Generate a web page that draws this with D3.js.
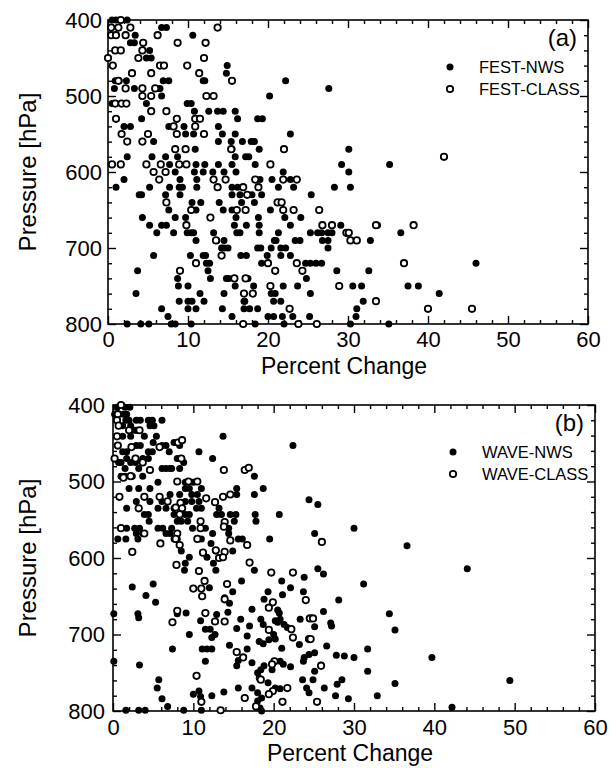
<!DOCTYPE html>
<html><head><meta charset="utf-8">
<script src="https://cdn.jsdelivr.net/npm/d3@7"></script>
<style>body{margin:0;background:#fff}text{font-family:"Liberation Sans",Arial,Helvetica,sans-serif;fill:#000}</style>
</head><body>
<svg id="chart" width="616" height="768"></svg>
<script>
// ---------- axis definitions ----------
const xMajorTicks = [0, 10, 20, 30, 40, 50, 60];
const xMinorTicks = [2,4,6,8,12,14,16,18,22,24,26,28,32,34,36,38,42,44,46,48,52,54,56,58];
const yMajorTicks = [400, 500, 600, 700, 800];
const yMinorTicks = [420,440,460,480,520,540,560,580,620,640,660,680,720,740,760,780];
const xTitle = "Percent Change";
const yTitle = "Pressure [hPa]";

// ---------- panel (a): [percent change, pressure hPa] ----------
const festNWS = [
[0.5,400],[1.0,400],[2.4,400],[6.7,410],[7.3,410],[3.4,420],[10.6,420],[2.8,430],[3.3,430],[5.2,440],
[4.8,450],[5.4,450],[14.9,460],[14.8,470],
[0.9,480],[1.4,480],[2.3,480],[6.9,480],[7.6,480],[11.9,480],[12.1,480],[22.2,480],
[0.8,490],[3.3,490],[6.1,490],[6.5,490],[27.6,490],[6.7,500],[20.2,500],
[0.5,510],[4.8,510],[9.9,510],[10.4,510],
[10.8,520],[12.6,520],[13.7,520],[14.4,520],[15.9,520],
[4.2,530],[16.2,530],[18.7,530],[19.3,530],
[2.0,540],[2.8,540],[7.6,540],[9.5,540],[13.8,540],
[9.7,550],[10.7,550],[14.3,550],[15.9,550],[22.8,550],
[5.7,560],[13.8,560],[15.4,560],[16.8,560],[17.9,560],[18.3,560],
[10.9,570],[15.5,570],[18.9,570],[30.1,570],
[2.4,580],[5.5,580],[7.2,580],[8.7,580],[15.9,580],[17.2,580],[17.6,580],
[7.7,590],[11.0,590],[12.1,590],[13.8,590],[15.5,590],[18.4,590],[29.2,590],[35.2,590],
[8.4,600],[10.8,600],[11.9,600],[13.1,600],[14.5,600],[16.0,600],[21.9,600],[30.1,600],
[2.0,610],[9.0,610],[11.1,610],[19.0,610],[20.5,610],[22.8,610],
[1.0,620],[5.2,620],[7.7,620],[8.9,620],[9.3,620],[11.1,620],[15.5,620],[16.2,620],[21.3,620],[23.2,620],[28.3,620],[30.3,620],
[3.9,630],[4.2,630],[7.2,630],[9.0,630],[15.5,630],[16.5,630],[18.0,630],[19.2,630],[25.4,630],
[10.5,640],[11.6,640],[13.9,640],[16.7,640],[18.3,640],
[7.6,650],[11.0,650],[14.4,650],[15.5,650],[20.3,650],
[4.3,660],[8.4,660],[9.7,660],[16.0,660],[18.8,660],[22.1,660],[24.1,660],
[5.2,670],[6.7,670],[7.3,670],[15.8,670],[17.3,670],[18.9,670],[22.8,670],[29.1,670],[33.7,670],
[6.1,680],[8.2,680],[9.9,680],[10.4,680],[10.7,680],[13.2,680],[16.1,680],[16.5,680],[18.9,680],[21.3,680],[25.3,680],[26.2,680],[26.7,680],[27.5,680],[28.0,680],[36.6,680],
[11.0,690],[13.6,690],[14.5,690],[20.8,690],[21.0,690],[23.4,690],[24.0,690],[26.8,690],[27.5,690],[32.8,690],
[14.2,700],[14.5,700],[15.0,700],[18.7,700],[19.1,700],[20.4,700],[21.6,700],[22.2,700],[27.5,700],
[5.7,710],[10.3,710],[11.9,710],[12.2,710],[16.6,710],[17.3,710],[19.9,710],[21.6,710],[22.8,710],
[12.3,720],[12.7,720],[19.2,720],[24.7,720],[25.3,720],[26.0,720],[26.7,720],[46.0,720],
[3.7,730],[12.5,730],[28.6,730],[32.6,730],
[8.7,740],[12.8,740],[14.8,740],[15.1,740],[17.5,740],[24.8,740],
[8.8,750],[10.0,750],[15.9,750],[18.2,750],[21.9,750],[23.7,750],[30.6,750],[31.7,750],[37.5,750],[38.8,750],
[3.5,760],[11.5,760],[14.5,760],[20.4,760],[20.9,760],[25.3,760],[41.4,760],
[8.9,770],[10.0,770],[10.5,770],[12.0,770],[17.0,770],[17.1,770],[20.7,770],[21.6,770],[31.9,770],
[6.7,780],[10.0,780],[11.0,780],[14.3,780],[17.0,780],[17.7,780],[18.7,780],[31.1,780],
[7.5,790],[15.5,790],[20.0,790],[20.7,790],[21.8,790],[23.1,790],[25.2,790],[31.0,790],
[2.4,800],[4.1,800],[5.1,800],[7.9,800],[8.4,800],[10.4,800],[18.4,800],[22.0,800],[30.3,800],[35.1,800]
];
const festCLASS = [
[1.6,400],[0.4,410],[1.3,410],[2.8,410],[13.7,410],[0.4,420],[1.0,420],[2.2,420],[6.2,420],
[4.4,430],[8.7,430],[12.2,430],[0.9,440],[1.6,440],[4.3,440],[0.0,450],[3.8,450],[12.0,450],
[0.6,460],[6.5,460],[7.0,460],[9.9,460],[3.0,470],[5.4,470],[11.4,470],[1.3,480],[15.5,480],
[2.2,490],[4.3,490],[5.9,490],[4.3,500],[5.4,500],[12.3,500],[13.2,500],[0.9,510],[1.7,510],[2.3,510],
[5.4,520],[7.3,520],[1.0,530],[8.6,530],[10.9,530],[11.5,530],[8.2,540],[10.9,540],
[1.7,550],[5.0,550],[8.6,550],[12.0,550],[2.4,560],[4.3,560],[8.4,570],[9.7,570],[15.4,570],[22.0,570],
[42.0,580],[0.5,590],[1.6,590],[4.8,590],[6.6,590],[8.9,590],[9.8,590],[20.3,590],[5.7,600],[7.2,600],
[6.4,610],[13.2,610],[14.7,610],[18.4,610],[21.9,610],[23.6,610],[13.7,620],[16.9,620],[18.8,620],
[17.4,630],[7.3,640],[21.2,640],[21.7,640],[10.4,650],[16.1,650],[17.2,650],[21.9,650],[23.2,650],[26.4,650],
[12.8,660],[9.8,670],[26.8,670],[28.0,670],[33.5,670],[38.2,670],[29.8,680],[30.1,680],
[13.5,690],[30.3,690],[31.1,690],[14.2,710],[11.0,720],[20.0,720],[23.6,720],[37.0,720],
[9.0,730],[20.9,730],[24.3,730],[15.8,740],[17.2,740],[20.3,750],[28.9,750],[17.0,760],[18.1,760],
[33.5,770],[22.7,780],[40.0,780],[45.5,780],[16.9,800],[23.8,800],[26.1,800]
];

// ---------- panel (b): [percent change, pressure hPa] ----------
const waveNWS = [
[0.5,403],[1.5,403],[2.1,403],[0.2,412],[0.7,412],[1.3,412],[1.7,412],
[1.6,420],[2.0,420],[2.9,420],[3.4,420],[4.4,420],[4.9,420],[6.1,420],
[1.2,427],[2.2,427],[4.6,427],[5.1,427],[2.7,433],[2.9,433],
[1.2,441],[2.2,441],[3.9,441],[5.4,441],[13.7,441],[7.6,449],[5.0,449],
[6.6,453],[6.1,453],[8.3,453],[2.9,453],[3.4,453],[22.4,453],
[1.2,461],[1.7,461],[4.4,461],[4.9,461],[10.7,461],[7.0,461],
[1.7,470],[3.7,470],[4.4,470],[8.0,470],[12.4,470],[0.7,475],[1.0,475],[2.2,475],[2.8,475],[8.8,475],
[6.1,483],[6.6,483],[7.1,483],[7.3,483],[8.3,483],[1.5,483],[3.2,483],
[1.5,493],[1.0,493],[2.4,493],[3.7,493],[17.6,493],[5.6,501],[9.0,501],[10.0,501],
[4.6,509],[2.0,509],[3.2,509],[9.0,509],[9.5,509],[11.0,509],[15.4,509],[18.7,509],
[7.1,517],[8.3,517],[10.5,517],[9.8,517],[17.6,517],[15.4,517],
[2.9,526],[4.6,526],[6.1,526],[9.8,526],[10.7,526],[9.0,526],[24.4,524],[25.5,530],
[1.7,535],[5.6,535],[6.6,535],[7.6,535],[10.4,535],[11.0,535],[13.2,535],
[3.9,543],[4.4,543],[7.6,543],[8.3,543],[9.0,543],[9.5,543],[12.9,543],[13.5,543],[14.6,543],[15.3,543],[17.7,543],[20.7,543],
[4.5,552],[8.0,552],[8.5,552],[9.3,552],[15.1,552],[17.8,552],
[1.7,561],[2.7,561],[3.3,561],[5.6,561],[6.2,561],[7.3,561],[9.9,561],[11.5,561],[14.4,561],[30.0,561],
[2.9,568],[3.7,568],[6.6,568],[7.1,568],[25.1,568],[12.4,568],[14.4,568],
[0.6,575],[1.6,575],[3.1,575],[7.6,575],[8.0,575],[11.0,575],[15.6,575],[16.1,575],[19.5,575],
[12.2,581],[36.6,584],[8.5,591],[12.8,591],[14.9,591],[9.5,599],[11.7,599],[12.5,607],[9.0,607],
[8.9,616],[12.8,616],[17.6,616],[25.5,614],[44.1,614],[26.2,621],
[23.8,625],[21.0,630],[16.0,630],[31.2,634],[5.0,634],[22.1,639],[2.4,638],[12.0,639],
[23.7,644],[14.9,644],[19.3,644],[21.1,648],[4.1,649],[13.9,652],[18.8,654],[28.1,655],[5.3,658],[14.5,659],
[17.3,667],[20.5,668],[26.2,670],[14.3,671],[9.1,672],[20.7,672],[34.4,673],[0.1,673],[8.0,673],[12.9,674],
[3.1,673],[3.2,678],[10.9,682],[15.9,680],[18.4,680],[20.8,680],[23.3,680],[20.2,682],[20.5,684],[27.1,685],
[21.3,687],[18.7,687],[27.2,689],[17.0,689],[25.1,690],[21.7,691],[15.4,692],[11.5,693],[12.1,693],[35.1,694],
[9.5,700],[12.7,700],[20.0,700],[16.7,702],[12.3,704],[20.2,706],[19.4,707],[18.2,709],[18.7,712],[23.2,713],
[14.5,714],[26.6,715],[21.0,718],[7.4,719],[11.1,719],[11.7,719],[12.3,719],[16.7,719],[31.7,719],
[25.1,724],[24.4,726],[27.8,727],[28.8,728],[39.7,730],[30.0,730],[23.8,730],[15.6,734],[11.5,735],[0.1,735],
[20.8,735],[23.7,735],[17.3,737],[21.2,739],[3.3,740],[15.4,741],[18.8,741],[25.9,740],[22.1,742],
[18.4,746],[19.8,746],[25.1,748],[31.7,748],[18.0,750],[18.2,757],[23.6,759],[24.9,759],[28.5,759],[49.4,760],
[5.7,759],[19.3,763],[27.9,765],[35.1,764],[17.3,770],[15.6,770],[5.5,770],[20.2,770],[20.8,771],[26.3,770],
[24.1,770],[10.7,774],[13.8,775],[18.0,776],[24.4,776],[10.0,778],[12.3,780],[27.7,780],[32.9,780],[10.9,781],
[18.5,783],[6.1,784],[29.3,784],[18.0,787],[6.8,794],[42.2,795],[18.3,796],[18.5,800],[8.8,799],[11.0,799],
[1.6,799],[3.2,799],[4.0,799]
];
const waveCLASS = [
[1.0,400],[0.6,412],[0.5,420],[0.7,427],[2.0,433],[3.3,433],[0.5,441],[8.1,449],[8.6,446],
[0.6,453],[2.3,455],[5.8,455],[0.2,470],[2.8,470],[8.5,470],[3.7,475],[4.6,485],[13.8,485],
[16.4,485],[16.9,482],[2.2,493],[1.3,495],[8.0,500],[9.4,500],[10.5,500],[0.8,520],[3.9,520],
[5.8,520],[11.6,522],[13.7,520],[14.6,517],[6.8,526],[8.4,528],[12.7,527],[3.2,535],[7.8,534],
[8.6,535],[8.3,543],[10.9,552],[13.9,553],[1.0,561],[10.9,561],[13.8,559],[3.9,568],[8.0,568],
[10.5,575],[7.8,575],[14.6,577],[5.9,581],[8.3,583],[16.7,583],[26.0,579],[2.4,592],[11.2,593],
[12.8,590],[13.9,592],[13.2,600],[13.7,599],[7.9,609],[17.0,606],[10.7,617],[19.7,619],[22.4,619],
[11.4,630],[14.2,634],[10.0,640],[11.0,640],[11.1,650],[13.9,654],[24.0,655],[19.9,658],[19.4,665],
[8.0,669],[11.5,672],[24.5,679],[24.9,679],[7.4,684],[12.7,683],[13.9,683],[22.2,693],[19.4,694],
[22.4,704],[24.4,706],[24.6,706],[15.4,723],[16.2,730],[20.1,735],[19.8,739],[25.9,741],[10.4,754],
[18.4,759],[21.7,770],[19.9,774],[19.4,778],[16.4,783],[11.0,788],[21.1,788],[25.4,788],[17.8,794],[13.4,799]
];

// ---------- drawing ----------
const svg = d3.select("#chart");

function drawPanel(cfg) {
  const x = d3.scaleLinear().domain([0, 60]).range([cfg.left, cfg.right]);
  const y = d3.scaleLinear().domain([400, 800]).range([cfg.top, cfg.bottom]);
  const g = svg.append("g");

  const styleAxis = sel => {
    sel.select(".domain").remove();
    sel.selectAll("line").attr("stroke", "#000").attr("stroke-width", 1.4);
    sel.selectAll("text").style("font-size", "22px").attr("fill", "#000")
       .style("font-family", "'Liberation Sans', Arial, sans-serif");
  };
  // major ticks with labels
  g.append("g").attr("transform", `translate(0,${cfg.bottom})`)
    .call(d3.axisBottom(x).tickValues(xMajorTicks).tickSize(-8).tickPadding(cfg.xPad).tickFormat(d3.format("d"))).call(styleAxis);
  g.append("g").attr("transform", `translate(${cfg.left},0)`)
    .call(d3.axisLeft(y).tickValues(yMajorTicks).tickSize(-8).tickPadding(cfg.yPad).tickFormat(d3.format("d"))).call(styleAxis);
  g.append("g").attr("transform", `translate(0,${cfg.top})`)
    .call(d3.axisTop(x).tickValues(xMajorTicks).tickSize(-8).tickFormat("")).call(styleAxis);
  g.append("g").attr("transform", `translate(${cfg.right},0)`)
    .call(d3.axisRight(y).tickValues(yMajorTicks).tickSize(-8).tickFormat("")).call(styleAxis);
  // minor ticks
  g.append("g").attr("transform", `translate(0,${cfg.bottom})`)
    .call(d3.axisBottom(x).tickValues(xMinorTicks).tickSize(-4).tickFormat("")).call(styleAxis);
  g.append("g").attr("transform", `translate(0,${cfg.top})`)
    .call(d3.axisTop(x).tickValues(xMinorTicks).tickSize(-4).tickFormat("")).call(styleAxis);
  g.append("g").attr("transform", `translate(${cfg.left},0)`)
    .call(d3.axisLeft(y).tickValues(yMinorTicks).tickSize(-4).tickFormat("")).call(styleAxis);
  g.append("g").attr("transform", `translate(${cfg.right},0)`)
    .call(d3.axisRight(y).tickValues(yMinorTicks).tickSize(-4).tickFormat("")).call(styleAxis);

  // frame
  g.append("rect").attr("x", cfg.left).attr("y", cfg.top)
    .attr("width", cfg.right - cfg.left).attr("height", cfg.bottom - cfg.top)
    .attr("fill", "none").attr("stroke", "#000").attr("stroke-width", 1.6);

  // data
  g.append("g").selectAll("circle").data(cfg.filled).join("circle")
    .attr("cx", d => x(d[0])).attr("cy", d => y(d[1])).attr("r", 3.5).attr("fill", "#000");
  g.append("g").selectAll("circle").data(cfg.open).join("circle")
    .attr("cx", d => x(d[0])).attr("cy", d => y(d[1])).attr("r", 3.2)
    .attr("fill", "#fff").attr("stroke", "#000").attr("stroke-width", 1.8);

  // titles
  g.append("text").attr("x", (cfg.left + cfg.right) / 2 - 4).attr("y", cfg.bottom + cfg.titleDy)
    .attr("text-anchor", "middle").style("font-size", "23px").text(xTitle);
  g.append("text").attr("transform", `translate(${cfg.ytx},${(cfg.top + cfg.bottom) / 2}) rotate(-90)`)
    .attr("text-anchor", "middle").style("font-size", "24px").text(yTitle);

  // panel label
  g.append("text").attr("x", cfg.right - 11).attr("y", cfg.top + 26)
    .attr("text-anchor", "end").style("font-size", "24px").text(cfg.tag);

  // legend
  const lx = cfg.legendX, ly = cfg.top + 47;
  g.append("circle").attr("cx", lx).attr("cy", ly).attr("r", 3.5).attr("fill", "#000");
  g.append("circle").attr("cx", lx).attr("cy", ly + 22).attr("r", 3.2)
    .attr("fill", "#fff").attr("stroke", "#000").attr("stroke-width", 1.8);
  g.append("text").attr("x", lx + 29).attr("y", ly + 6).style("font-size", "16.5px").text(cfg.names[0]);
  g.append("text").attr("x", lx + 29).attr("y", ly + 28).style("font-size", "16.5px").text(cfg.names[1]);
}

drawPanel({left: 108, right: 588, top: 20, bottom: 324, ytx: 36, xPad: 7, yPad: 6, titleDy: 50, tag: "(a)",
  legendX: 450, names: ["FEST-NWS", "FEST-CLASS"], filled: festNWS, open: festCLASS});
drawPanel({left: 113, right: 595, top: 405, bottom: 711, ytx: 36, xPad: 8, yPad: 8, titleDy: 50, tag: "(b)",
  legendX: 453, names: ["WAVE-NWS", "WAVE-CLASS"], filled: waveNWS, open: waveCLASS});
</script>
</body></html>
